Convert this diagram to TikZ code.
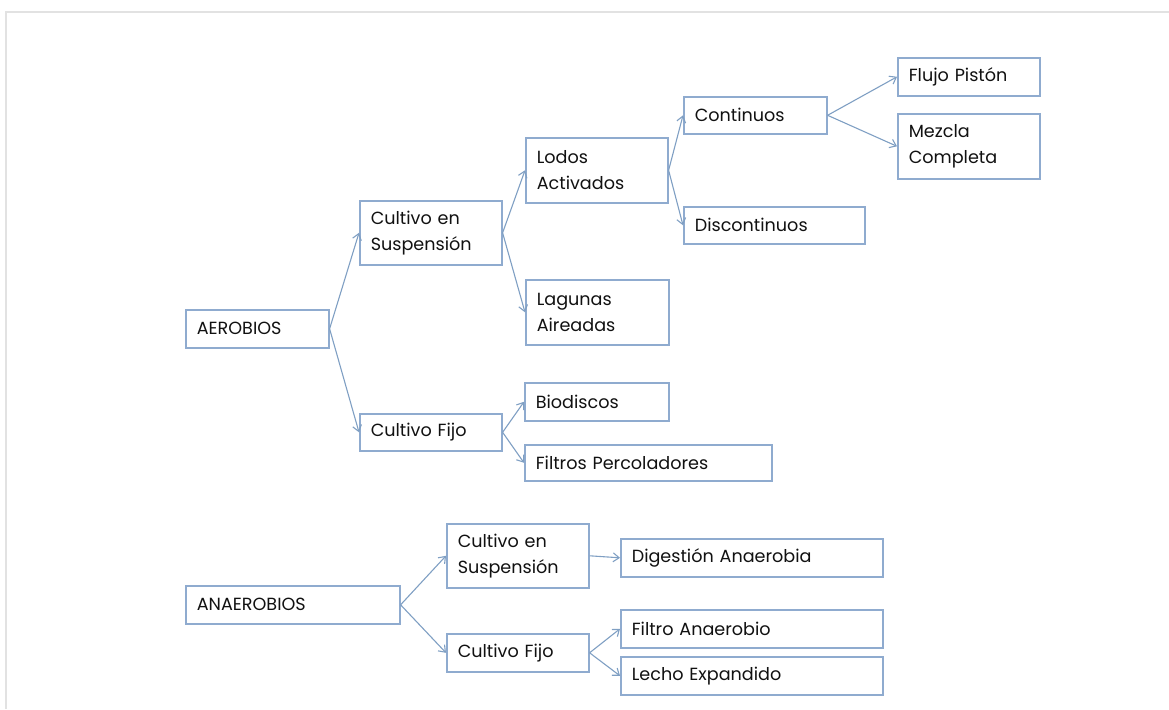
\documentclass[tikz,border=0pt]{standalone}
\usepackage{fontspec}
\setmainfont{Poppins}
\usetikzlibrary{arrows.meta}
\definecolor{boxline}{HTML}{8FABCF}
\definecolor{linkline}{HTML}{7F9FC3}
\definecolor{framegray}{HTML}{E2E2E2}
\definecolor{ink}{HTML}{111111}
\begin{document}
\begin{tikzpicture}[x=1pt,y=-1pt,
  cell/.style={draw=boxline, line width=1.6pt, fill=white, anchor=north west,
    inner xsep=11pt, inner ysep=0pt, align=left, text=ink,
    font=\fontsize{17.6}{26}\selectfont},
  link/.style={draw=linkline, line width=1.1pt,
    -{Straight Barb[length=6pt,width=9pt,line width=1.1pt]}}]
\useasboundingbox (0,0) rectangle (1169,709);
% page frame
\draw[framegray, line width=1.8pt] (6,709) -- (6,12) -- (1169,12);
% cell: position (left, top), width w, height h
\newcommand{\cellat}[6]{%
  \node[cell, text width=#4pt-22pt, minimum height=#5pt] (#1) at (#2,#3) {#6};}
% aerobic branch
\cellat{aer}{185}{309}{143}{38}{AEROBIOS}
\cellat{aersus}{359}{200}{142}{64}{Cultivo en\\Suspensión}
\cellat{aerfij}{359}{413}{142}{37}{Cultivo Fijo}
\cellat{lodos}{525}{137}{142}{65}{Lodos\\Activados}
\cellat{lagunas}{525}{279}{143}{65}{Lagunas\\Aireadas}
\cellat{biodis}{524}{382}{144}{38}{Biodiscos}
\cellat{filtros}{524}{444}{247}{36}{Filtros Percoladores}
\cellat{cont}{683}{96}{143}{37}{Continuos}
\cellat{discont}{683}{206}{181}{37}{Discontinuos}
\cellat{flujo}{897}{57}{142}{38}{Flujo Pistón}
\cellat{mezcla}{897}{113}{142}{65}{Mezcla\\Completa}
% anaerobic branch
\cellat{anaer}{185}{585}{214}{38}{ANAEROBIOS}
\cellat{ansus}{446}{523}{142}{64}{Cultivo en\\Suspensión}
\cellat{anfij}{446}{633}{142}{38}{Cultivo Fijo}
\cellat{digest}{620}{538}{262}{38}{Digestión Anaerobia}
\cellat{filana}{620}{609}{262}{38}{Filtro Anaerobio}
\cellat{lecho}{620}{656}{262}{38}{Lecho Expandido}
% connectors
\foreach \a/\b in {aer/aersus, aer/aerfij, aersus/lodos, aersus/lagunas,
  aerfij/biodis, aerfij/filtros, lodos/cont, lodos/discont,
  cont/flujo, cont/mezcla, anaer/ansus, anaer/anfij,
  ansus/digest, anfij/filana, anfij/lecho}
  \draw[link] (\a.east) -- (\b.west);
\end{tikzpicture}
\end{document}
